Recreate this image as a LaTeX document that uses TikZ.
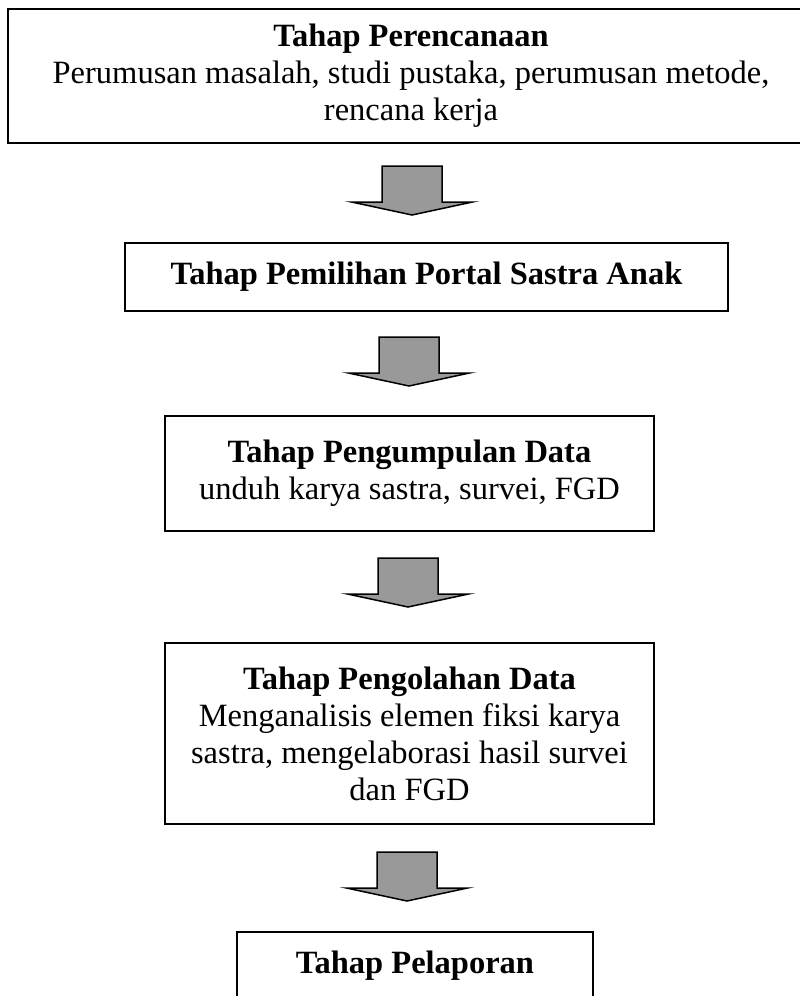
\documentclass[tikz,border=0pt]{standalone}
\usepackage{fontspec}
\setmainfont{Liberation Serif}
\definecolor{arrowgray}{RGB}{153,153,153}
\tikzset{
  box/.style={draw, line width=2pt, align=center, inner sep=0pt,
    font=\fontsize{32.5}{37}\selectfont},
  blockarrow/.pic={
    \draw[line width=1.5pt, fill=arrowgray, line join=miter]
      (-30,0) -- (30,0) -- (30,36) -- (60.5,36) -- (0,49) -- (-60.5,36) -- (-30,36) -- cycle;
  }
}
\begin{document}
\begin{tikzpicture}[x=1pt,y=-1pt]
\useasboundingbox (0,0) rectangle (800,996);
\node[box, minimum width=806pt, minimum height=134pt] (b1) at (411,76)
  {\textbf{Tahap Perencanaan}\\Perumusan masalah, studi pustaka, perumusan metode,\\rencana kerja};
\node[box, minimum width=603pt, minimum height=68pt] (b2) at (426.5,277)
  {\textbf{Tahap Pemilihan Portal Sastra Anak}};
\node[box, minimum width=489pt, minimum height=115pt] (b3) at (409.5,473)
  {\textbf{Tahap Pengumpulan Data}\\unduh karya sastra, survei, FGD};
\node[box, minimum width=489pt, minimum height=181pt] (b4) at (409.5,733.5)
  {\textbf{Tahap Pengolahan Data}\\Menganalisis elemen fiksi karya\\sastra, mengelaborasi hasil survei\\dan FGD};
\node[box, minimum width=356pt, minimum height=68pt] (b5) at (415,966)
  {\textbf{Tahap Pelaporan}};
\coordinate (a1) at (412,166);
\coordinate (a2) at (409,337);
\coordinate (a3) at (408,558);
\coordinate (a4) at (407,852);
\pic at (a1) {blockarrow};
\pic at (a2) {blockarrow};
\pic at (a3) {blockarrow};
\pic at (a4) {blockarrow};
\end{tikzpicture}
\end{document}
